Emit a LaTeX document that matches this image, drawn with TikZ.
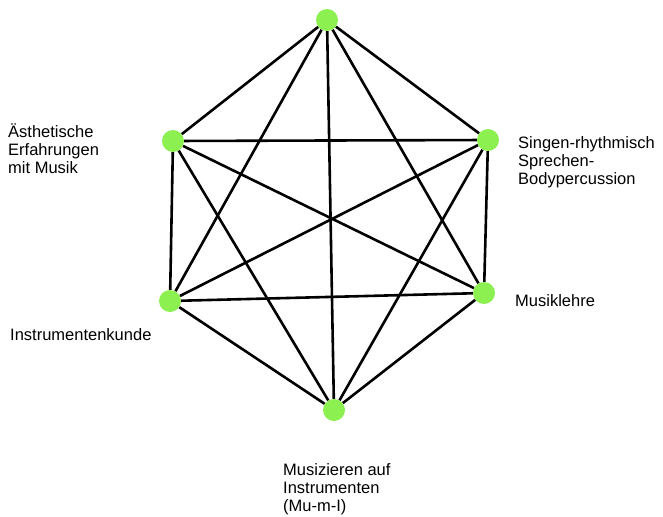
\documentclass[tikz,border=0pt]{standalone}
\usepackage{fontspec}
\setmainfont{Liberation Sans}
\definecolor{knoten}{RGB}{140,240,80}
\tikzset{
  dot/.style={circle,fill=knoten,minimum size=22pt,inner sep=0pt},
  edge/.style={line width=2.6pt},
  lbl/.style={anchor=base west,align=left,inner sep=0pt,font=\fontsize{16.5}{18}\selectfont}
}

\begin{document}
\begin{tikzpicture}[x=1pt,y=-1pt]
  \useasboundingbox (0,0) rectangle (663,516);
  % Knoten des Sechsecks
  \node[dot] (spitze) at (327,20) {};
  \node[dot] (aesthetik) at (173,141) {};
  \node[dot] (singen) at (488,140) {};
  \node[dot] (instrumente) at (170,301) {};
  \node[dot] (lehre) at (484,293) {};
  \node[dot] (musizieren) at (334,410) {};
  % alle Verbindungen
  \draw[edge] (spitze) -- (aesthetik) (spitze) -- (singen) (spitze) -- (instrumente)
    (spitze) -- (lehre) (spitze) -- (musizieren);
  \draw[edge] (aesthetik) -- (singen) (aesthetik) -- (instrumente) (aesthetik) -- (lehre)
    (aesthetik) -- (musizieren);
  \draw[edge] (singen) -- (instrumente) (singen) -- (lehre) (singen) -- (musizieren);
  \draw[edge] (instrumente) -- (lehre) (instrumente) -- (musizieren);
  \draw[edge] (lehre) -- (musizieren);
  % Beschriftungen (Anker an der letzten Zeile)
  \node[lbl] (laesthetik) at (8,173) {Ästhetische\\Erfahrungen\\mit Musik};
  \node[lbl] (lsingen) at (518,184) {Singen-rhythmisch\\Sprechen-\\Bodypercussion};
  \node[lbl] (llehre) at (515,306) {Musiklehre};
  \node[lbl] (linstrumente) at (10,340) {Instrumentenkunde};
  \node[lbl] (lmusizieren) at (283,511) {Musizieren auf\\Instrumenten\\(Mu-m-I)};
\end{tikzpicture}
\end{document}
